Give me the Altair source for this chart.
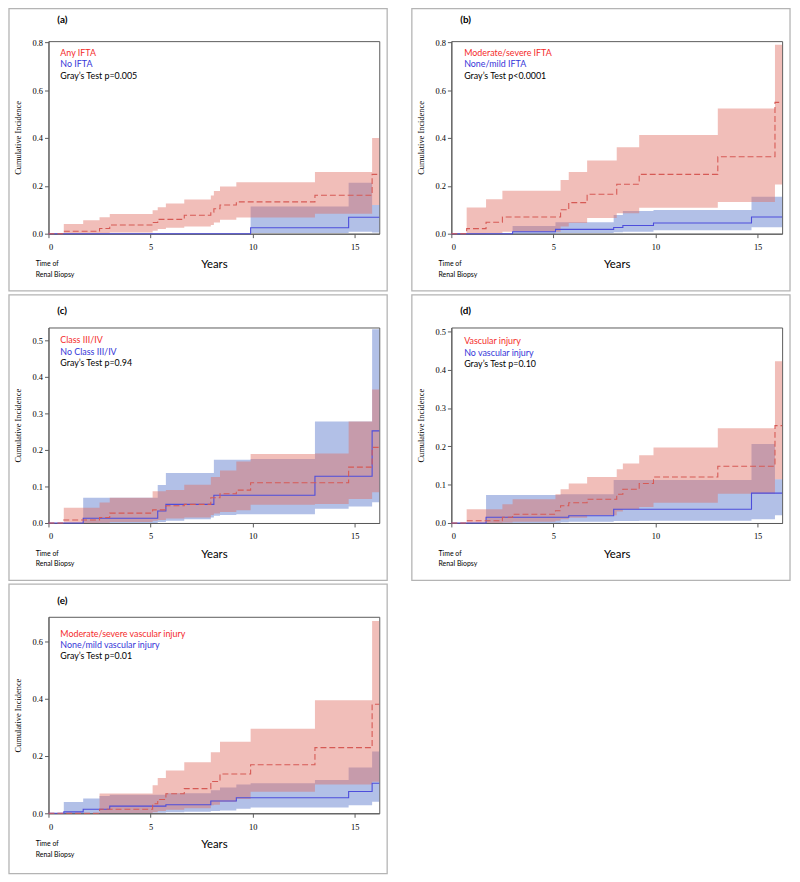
import altair as alt
import pandas as pd

# common event-time grid (years); each value holds until the next time
T = [0, 0.75, 1.7, 2.5, 3.0, 5.1, 5.35, 5.75, 6.65, 7.95, 8.1, 8.4, 9.2, 9.9, 13.05, 14.7, 15.85, 16.2]

# (a) Any IFTA vs No IFTA
a_red_est = [0, 0.01, 0.01, 0.022, 0.036, 0.047, 0.06, 0.06, 0.077, 0.09, 0.104, 0.12, 0.133, 0.133, 0.161, 0.161, 0.248, 0.248]
a_red_lo = [0, 0, 0, 0.002, 0.005, 0.012, 0.02, 0.025, 0.03, 0.036, 0.047, 0.058, 0.068, 0.068, 0.083, 0.083, 0.12, 0.12]
a_red_hi = [0, 0.041, 0.056, 0.069, 0.082, 0.098, 0.111, 0.126, 0.143, 0.16, 0.179, 0.197, 0.215, 0.215, 0.258, 0.258, 0.40, 0.40]
a_blue_est = [0, 0, 0, 0, 0, 0, 0, 0, 0, 0, 0, 0, 0, 0.025, 0.025, 0.069, 0.069, 0.069]
a_blue_lo = [0, 0, 0, 0, 0, 0, 0, 0, 0, 0, 0, 0, 0, 0.003, 0.003, 0.008, 0.005, 0.005]
a_blue_hi = [0, 0, 0, 0, 0, 0, 0, 0, 0, 0, 0, 0, 0, 0.114, 0.114, 0.213, 0.12, 0.12]

# (b) Moderate/severe IFTA vs None/mild IFTA
b_red_est = [0, 0.021, 0.048, 0.07, 0.07, 0.07, 0.1, 0.13, 0.165, 0.165, 0.207, 0.207, 0.248, 0.248, 0.322, 0.322, 0.549, 0.549]
b_red_lo = [0, 0, 0.002, 0.008, 0.008, 0.008, 0.03, 0.045, 0.066, 0.066, 0.085, 0.085, 0.108, 0.108, 0.133, 0.133, 0.206, 0.206]
b_red_hi = [0, 0.11, 0.144, 0.18, 0.18, 0.18, 0.224, 0.258, 0.306, 0.306, 0.361, 0.361, 0.413, 0.413, 0.523, 0.523, 0.79, 0.79]
b_blue_est = [0, 0, 0, 0, 0.008, 0.018, 0.018, 0.018, 0.018, 0.026, 0.026, 0.034, 0.034, 0.045, 0.045, 0.07, 0.07, 0.07]
b_blue_lo = [0, 0, 0, 0, 0, 0.003, 0.003, 0.003, 0.003, 0.006, 0.006, 0.008, 0.008, 0.014, 0.014, 0.027, 0.027, 0.027]
b_blue_hi = [0, 0, 0, 0, 0.032, 0.048, 0.048, 0.048, 0.048, 0.078, 0.078, 0.095, 0.095, 0.099, 0.099, 0.154, 0.154, 0.154]

# (c) Class III/IV vs No Class III/IV
c_red_est = [0, 0.008, 0.008, 0.015, 0.027, 0.036, 0.036, 0.047, 0.051, 0.069, 0.069, 0.08, 0.09, 0.11, 0.11, 0.153, 0.207, 0.207]
c_red_lo = [0, 0, 0, 0.001, 0.003, 0.006, 0.008, 0.012, 0.015, 0.022, 0.026, 0.03, 0.035, 0.05, 0.052, 0.066, 0.084, 0.084]
c_red_hi = [0, 0.042, 0.042, 0.056, 0.069, 0.087, 0.087, 0.09, 0.105, 0.126, 0.126, 0.144, 0.168, 0.189, 0.19, 0.278, 0.365, 0.365]
c_blue_est = [0, 0, 0.013, 0.013, 0.013, 0.013, 0.033, 0.051, 0.051, 0.051, 0.076, 0.076, 0.076, 0.076, 0.128, 0.128, 0.252, 0.252]
c_blue_lo = [0, 0, 0, 0, 0, 0, 0.003, 0.006, 0.01, 0.015, 0.02, 0.022, 0.024, 0.024, 0.039, 0.045, 0.057, 0.057]
c_blue_hi = [0, 0, 0.069, 0.069, 0.069, 0.069, 0.104, 0.137, 0.137, 0.137, 0.173, 0.173, 0.173, 0.175, 0.278, 0.278, 0.53, 0.53]

# (d) Vascular injury vs No vascular injury
d_red_est = [0, 0.006, 0.006, 0.015, 0.023, 0.032, 0.045, 0.053, 0.062, 0.062, 0.075, 0.088, 0.103, 0.12, 0.148, 0.148, 0.254, 0.254]
d_red_lo = [0, 0, 0, 0.001, 0.003, 0.006, 0.01, 0.014, 0.02, 0.02, 0.03, 0.036, 0.042, 0.053, 0.076, 0.076, 0.114, 0.114]
d_red_hi = [0, 0.036, 0.036, 0.049, 0.062, 0.075, 0.088, 0.103, 0.12, 0.12, 0.14, 0.155, 0.177, 0.197, 0.247, 0.247, 0.422, 0.422]
d_blue_est = [0, 0, 0.015, 0.015, 0.015, 0.015, 0.015, 0.019, 0.019, 0.036, 0.036, 0.036, 0.036, 0.036, 0.036, 0.078, 0.078, 0.078]
d_blue_lo = [0, 0, 0, 0, 0, 0, 0.002, 0.003, 0.003, 0.005, 0.005, 0.005, 0.006, 0.006, 0.006, 0.01, 0.02, 0.02]
d_blue_hi = [0, 0, 0.073, 0.073, 0.073, 0.073, 0.075, 0.075, 0.075, 0.112, 0.112, 0.112, 0.112, 0.112, 0.112, 0.206, 0.114, 0.114]

# (e) Moderate/severe vs None/mild vascular injury
e_red_est = [0, 0, 0, 0.014, 0.014, 0.033, 0.048, 0.068, 0.086, 0.111, 0.111, 0.137, 0.137, 0.169, 0.229, 0.229, 0.38, 0.38]
e_red_lo = [0, 0, 0, 0, 0.001, 0.004, 0.008, 0.012, 0.018, 0.028, 0.03, 0.04, 0.05, 0.075, 0.1, 0.1, 0.11, 0.11]
e_red_hi = [0, 0, 0, 0.069, 0.069, 0.098, 0.123, 0.149, 0.178, 0.213, 0.213, 0.249, 0.249, 0.295, 0.394, 0.394, 0.67, 0.67]
e_blue_est = [0, 0.005, 0.014, 0.014, 0.025, 0.025, 0.025, 0.03, 0.03, 0.043, 0.043, 0.043, 0.054, 0.054, 0.054, 0.076, 0.105, 0.105]
e_blue_lo = [0, 0, 0, 0, 0.001, 0.002, 0.002, 0.004, 0.005, 0.008, 0.008, 0.01, 0.016, 0.02, 0.02, 0.028, 0.04, 0.04]
e_blue_hi = [0, 0.039, 0.052, 0.06, 0.065, 0.065, 0.065, 0.07, 0.07, 0.08, 0.08, 0.09, 0.1, 0.105, 0.116, 0.16, 0.215, 0.215]

X_TICKS = [0, 5, 10, 15]

W = 335
SANS = "Lato"
SERIF = "Liberation Serif"
RED_FILL, BLUE_FILL = "#e06a60", "#5070c8"
RED_LINE, BLUE_LINE = "#d65a55", "#4d4ddb"
RED_TXT, BLUE_TXT = "#f42a2a", "#3535d8"
FRAME = "#5a5a5a"


def text_layer(txt, px, py, color="black", size=9, weight="normal", font=SANS):
    return alt.Chart(pd.DataFrame({"k": [0]})).mark_text(
        align="left", baseline="middle", font=font, fontSize=size,
        fontWeight=weight, color=color
    ).encode(x=alt.value(px), y=alt.value(py), text=alt.value(txt))


def panel(letter, red, blue, labels, ymax, yticks, letter_dy, leg_dy, leg_dx, H, box_bottom=58):
    df_r = pd.DataFrame({"t": T, "est": red[0], "lo": red[1], "hi": red[2]})
    df_b = pd.DataFrame({"t": T, "est": blue[0], "lo": blue[1], "hi": blue[2]})
    xs = alt.Scale(domain=[0, 16.2], nice=False, zero=False)
    ys = alt.Scale(domain=[0, ymax], nice=False)
    xax = alt.Axis(values=X_TICKS, format="d", title="Years", grid=False,
                   labelFont=SERIF, labelFontSize=8.5, labelColor="black",
                   tickSize=4, labelPadding=5, titleFont=SANS, titleFontSize=11.5,
                   titleFontWeight="normal", titleColor="black", titlePadding=8,
                   domainColor=FRAME, tickColor=FRAME)
    yax = alt.Axis(values=yticks, format=".1f", title="Cumulative Incidence", grid=False,
                   labelFont=SERIF, labelFontSize=8.5, labelColor="black",
                   tickSize=4, labelPadding=2, titleFont=SERIF, titleFontSize=8.5,
                   titleFontWeight="normal", titleColor="black", titlePadding=10,
                   domainColor=FRAME, tickColor=FRAME)

    box = alt.Chart(pd.DataFrame({"k": [0]})).mark_rect(
        fillOpacity=0, stroke="#b4b4b4", strokeWidth=1.3
    ).encode(x=alt.value(-40), x2=alt.value(W + 8), y=alt.value(-33), y2=alt.value(H + box_bottom))

    def band(df, col):
        return alt.Chart(df).mark_area(interpolate="step-after", color=col, opacity=0.44).encode(
            x=alt.X("t:Q", scale=xs, axis=xax),
            y=alt.Y("lo:Q", scale=ys, axis=yax),
            y2="hi:Q")

    def line(df, col, dash):
        kw = {"strokeDash": dash} if dash else {}
        return alt.Chart(df).mark_line(interpolate="step-after", color=col, strokeWidth=1.1, **kw).encode(
            x=alt.X("t:Q", scale=xs, axis=xax),
            y=alt.Y("est:Q", scale=ys, axis=yax))

    layers = [
        box,
        band(df_b, BLUE_FILL),
        band(df_r, RED_FILL),
        line(df_b, BLUE_LINE, None),
        line(df_r, RED_LINE, [6, 3]),
        text_layer(letter, 9, letter_dy, size=10, weight="bold"),
        text_layer(labels[0], leg_dx, leg_dy, color=RED_TXT),
        text_layer(labels[1], leg_dx, leg_dy + 11.5, color=BLUE_TXT),
        text_layer(labels[2], leg_dx, leg_dy + 23, color="black"),
        text_layer("Time of", -13, H + 31, size=7),
        text_layer("Renal Biopsy", -13, H + 42, size=7),
    ]
    return alt.layer(*layers).properties(width=W, height=H)


pa = panel("(a)", (a_red_est, a_red_lo, a_red_hi), (a_blue_est, a_blue_lo, a_blue_hi),
           ["Any IFTA", "No IFTA", "Gray\u2019s Test p=0.005"],
           0.805, [0, 0.2, 0.4, 0.6, 0.8], -21, 12, 12, 195)
pb = panel("(b)", (b_red_est, b_red_lo, b_red_hi), (b_blue_est, b_blue_lo, b_blue_hi),
           ["Moderate/severe IFTA", "None/mild IFTA", "Gray\u2019s Test p<0.0001"],
           0.805, [0, 0.2, 0.4, 0.6, 0.8], -21, 12, 13, 195)
pc = panel("(c)", (c_red_est, c_red_lo, c_red_hi), (c_blue_est, c_blue_lo, c_blue_hi),
           ["Class III/IV", "No Class III/IV", "Gray\u2019s Test p=0.94"],
           0.535, [0, 0.1, 0.2, 0.3, 0.4, 0.5], -17, 13, 12, 198)
pd_ = panel("(d)", (d_red_est, d_red_lo, d_red_hi), (d_blue_est, d_blue_lo, d_blue_hi),
            ["Vascular injury", "No vascular injury", "Gray\u2019s Test p=0.10"],
            0.51, [0, 0.1, 0.2, 0.3, 0.4, 0.5], -17, 14, 13, 198)
pe = panel("(e)", (e_red_est, e_red_lo, e_red_hi), (e_blue_est, e_blue_lo, e_blue_hi),
           ["Moderate/severe vascular injury", "None/mild vascular injury", "Gray\u2019s Test p=0.01"],
           0.685, [0, 0.2, 0.4, 0.6], -16, 17, 12, 199, box_bottom=61)

row1 = alt.hconcat(pa, pb, spacing=21)
row2 = alt.hconcat(pc, pd_, spacing=21)
chart = alt.vconcat(row1, row2, pe, spacing=0).properties(
    padding={"top": -7, "left": -1, "right": 0, "bottom": 0}, background="white"
).configure_view(stroke=FRAME, strokeWidth=1)

chart.save("out.html", embed_options={"renderer": "svg", "actions": False})
